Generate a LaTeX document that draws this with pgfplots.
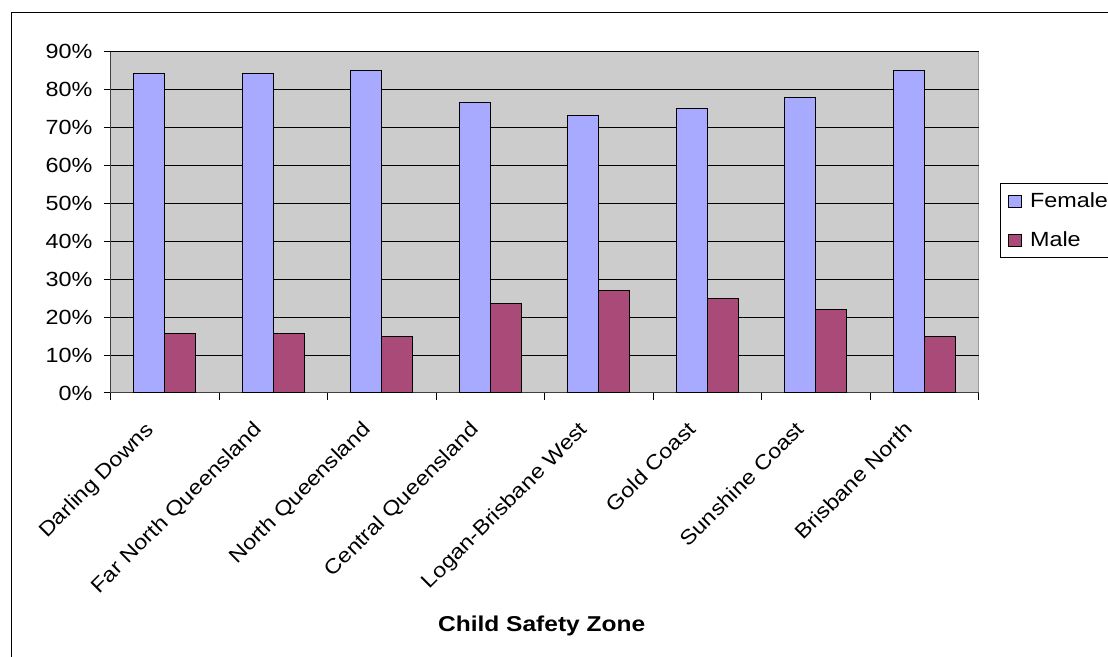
\documentclass[border=0pt]{standalone}
\usepackage{pgfplots}
\pgfplotsset{compat=1.18}
\usepackage{fontspec}
\setmainfont{Liberation Sans}[FakeStretch=1.14]

\definecolor{plotgray}{HTML}{CCCCCC}
\definecolor{femalecol}{HTML}{A8AAFF}
\definecolor{malecol}{HTML}{A94A78}
\definecolor{framegray}{HTML}{9A9A9A}

% Share of children by sex in each Child Safety Zone (per cent)
\pgfplotstableread{
idx female male
0   84.2   15.8
1   84.2   15.8
2   85.1   14.9
3   76.5   23.5
4   73.1   26.9
5   75.0   25.0
6   77.9   22.1
7   85.1   14.9
}\zonedata

\begin{document}
\fontsize{10.25pt}{12pt}\selectfont
\begin{tikzpicture}
\useasboundingbox (0,0) rectangle (554pt,328.5pt);
\draw[line width=0.5pt] (5.5pt,-5pt) -- (5.5pt,322pt) -- (600pt,322pt);
\begin{axis}[
  at={(55.35pt,132pt)}, anchor=south west,
  scale only axis, width=434pt, height=170.65pt,
  ybar=0pt, bar width=15.5pt,
  xmin=-0.5, xmax=7.5, ymin=0, ymax=90,
  xtick={-0.5,0.5,...,7.5},
  x tick label as interval,
  xticklabels={Darling Downs,Far North Queensland,North Queensland,Central Queensland,Logan-Brisbane West,Gold Coast,Sunshine Coast,Brisbane North},
  xticklabel style={xshift=-10.5pt, yshift=-5pt, rotate=45, anchor=north east},
  ytick={0,10,...,90},
  yticklabels={0\%,10\%,20\%,30\%,40\%,50\%,60\%,70\%,80\%,90\%},
  yticklabel style={xshift=-2pt},
  tick align=outside, major tick length=3.5pt,
  xtick pos=bottom, ytick pos=left,
  tick style={black, line width=0.5pt},
  ymajorgrids, grid style={black, line width=0.5pt},
  axis background/.style={fill=plotgray, draw=framegray, line width=0.5pt},
  axis x line*=bottom, axis y line*=left,
  axis line style={black!75, line width=0.5pt},
  xlabel={Child Safety Zone},
  xlabel style={font=\fontsize{10.75pt}{12pt}\selectfont\bfseries,
    at={(axis description cs:0.4965,-0.6994)}, anchor=base},
  legend style={draw=black, line width=0.5pt, fill=white,
    at={(1.0245,0.6144)}, anchor=north west,
    inner xsep=4pt, inner ysep=4.85pt, row sep=11.8pt, column sep=4pt,
    nodes={inner sep=0pt, text height=7.2pt, text depth=0.5pt, anchor=base west},
    legend cell align=left},
  legend image code/.code={\draw[#1, line width=0.5pt] (0pt,0pt) rectangle (6.3pt,6.2pt);},
]
\addplot[fill=femalecol, draw=black, line width=0.5pt] table[x=idx, y=female] {\zonedata};
\addlegendentry{Female}
\addplot[fill=malecol, draw=black, line width=0.5pt] table[x=idx, y=male] {\zonedata};
\addlegendentry{Male}
\end{axis}
\end{tikzpicture}
\end{document}
